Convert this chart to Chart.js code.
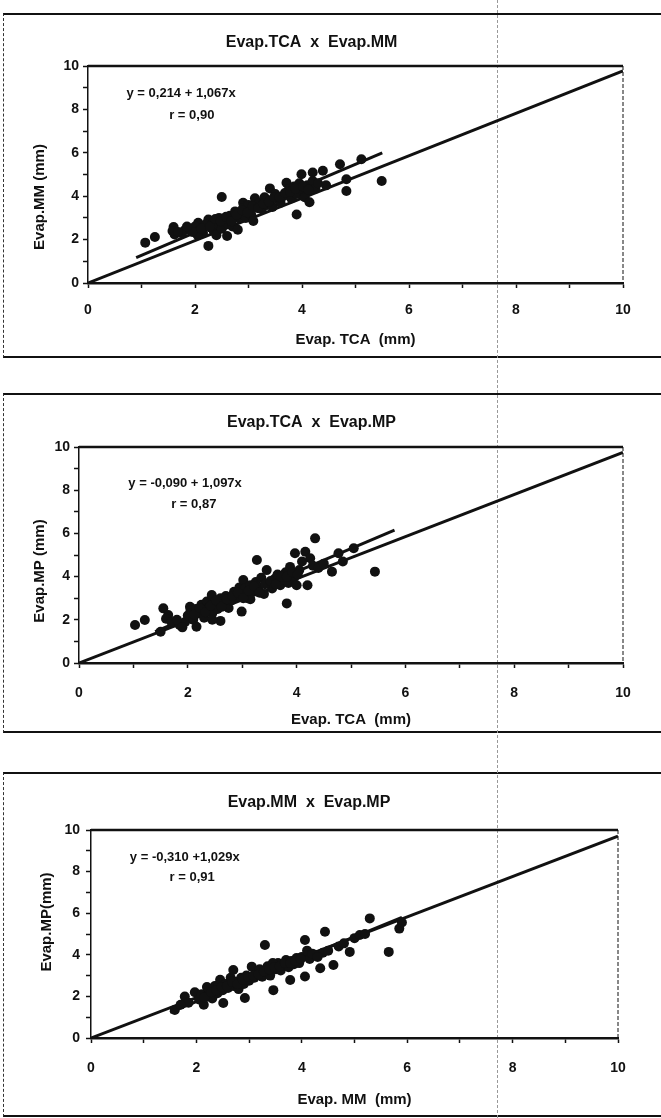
<!DOCTYPE html>
<html><head><meta charset="utf-8">
<script src="https://cdn.jsdelivr.net/npm/chart.js@4.4.1/dist/chart.umd.min.js"></script>
<style>
html,body{margin:0;padding:0;background:#fff;width:661px;height:1118px;overflow:hidden;position:relative}
.frame{position:absolute;left:3px;width:720px;border-top:2px solid #111;border-bottom:2px solid #111;border-left:1px dashed #333;box-sizing:border-box}
.fold{position:absolute;left:497px;top:0;height:1118px;width:0;border-left:1px dashed #999}
canvas{position:absolute;left:0}
</style></head><body>
<div class="frame" style="top:13px;height:345px"></div>
<div class="frame" style="top:393px;height:340px"></div>
<div class="frame" style="top:772px;height:345px"></div>
<div class="fold"></div>
<canvas id="c1" width="661" height="345" style="top:13px"></canvas>
<canvas id="c2" width="661" height="340" style="top:393px"></canvas>
<canvas id="c3" width="661" height="345" style="top:772px"></canvas>
<script>
// ---------- DATA ----------
const tickValues = [0, 2, 4, 6, 8, 10];
const tickLabels = ['0', '2', '4', '6', '8', '10'];

const chartTitles = ['Evap.TCA  x  Evap.MM', 'Evap.TCA  x  Evap.MP', 'Evap.MM  x  Evap.MP'];
const xTitles = ['Evap. TCA  (mm)', 'Evap. TCA  (mm)', 'Evap. MM  (mm)'];
const yTitles = ['Evap.MM (mm)', 'Evap.MP (mm)', 'Evap.MP(mm)'];
const equations = ['y = 0,214 + 1,067x', 'y = -0,090 + 1,097x', 'y = -0,310 +1,029x'];
const correlations = ['r = 0,90', 'r = 0,87', 'r = 0,91'];

// Chart 1: TCA (x) vs MM (y)
const tcaX_1 = [1.07,1.25,1.60,1.62,1.58,1.80,1.75,1.90,2.06,2.00,2.10,2.15,2.25,2.20,2.25,2.30,2.35,2.35,2.40,2.45,2.50,2.50,2.55,2.60,2.60,2.65,2.70,2.70,2.75,2.80,2.80,2.85,2.90,2.90,2.95,3.00,3.00,3.05,3.09,3.12,3.15,3.20,3.25,3.30,3.35,3.40,3.40,3.45,3.50,3.55,3.60,3.65,3.71,3.75,3.80,3.85,3.90,3.90,3.95,3.99,4.00,4.05,4.10,4.14,4.20,4.20,4.25,4.30,4.39,4.45,4.71,4.83,4.83,5.11,5.49,2.05,1.95,2.45,
  2.12,2.28,2.38,2.48,2.58,2.68,2.78,2.88,2.98,3.08,3.18,3.28,3.38,3.48,3.58,3.68,3.78,3.88,4.02,4.12,1.68,1.85];
const mmY_1  = [1.86,2.12,2.58,2.24,2.40,2.42,2.30,2.50,2.78,2.60,2.45,2.30,2.93,2.70,1.71,2.55,2.40,2.80,2.20,2.65,3.96,2.50,2.90,2.17,2.75,3.10,2.60,2.95,3.30,2.45,3.00,3.20,3.70,3.45,3.00,3.35,3.60,3.15,2.86,3.90,3.50,3.70,3.40,3.95,3.60,4.36,3.80,3.50,4.10,3.85,3.70,4.00,4.62,4.30,3.90,4.45,3.16,4.10,4.60,5.01,4.30,3.95,4.50,3.72,5.09,4.70,4.35,4.60,5.17,4.50,5.47,4.78,4.24,5.70,4.70,2.20,2.35,3.00,
  2.50,2.60,2.95,2.85,3.05,2.85,3.15,3.35,3.25,3.55,3.45,3.65,3.75,3.95,3.95,4.15,4.20,4.35,4.45,4.30,2.35,2.60];

// Chart 2: TCA (x) vs MP (y)
const tcaX_2 = [1.03,1.21,1.55,1.64,1.60,1.50,1.70,1.85,1.95,2.04,2.00,2.05,2.10,2.16,2.15,2.20,2.25,2.30,2.30,2.35,2.40,2.44,2.45,2.50,2.55,2.60,2.60,2.65,2.70,2.75,2.80,2.85,2.90,2.95,2.99,3.00,3.02,3.05,3.10,3.15,3.20,3.25,3.27,3.30,3.35,3.40,3.45,3.50,3.55,3.60,3.65,3.70,3.75,3.80,3.82,3.85,3.88,3.95,3.97,4.00,4.05,4.10,4.16,4.20,4.25,4.30,4.34,4.40,4.50,4.65,4.77,4.85,5.05,5.44,2.45,3.15,
  2.12,2.22,2.32,2.42,2.52,2.62,2.72,2.82,2.92,3.02,3.12,3.22,3.32,3.42,3.52,3.62,3.72,3.82,3.92,4.02,1.80,1.90];
const mpY_2  = [1.76,1.99,2.53,2.22,2.05,1.45,1.90,1.76,1.90,2.60,2.20,2.45,2.00,1.68,2.50,2.30,2.70,2.45,2.10,2.85,2.60,3.15,2.30,2.75,2.50,1.95,3.00,2.70,3.10,2.55,2.90,3.30,3.05,3.50,2.38,3.20,3.84,3.45,3.00,3.60,3.35,3.75,4.77,3.50,3.95,3.20,4.30,3.70,3.45,3.90,4.10,3.60,3.85,4.20,2.76,3.70,4.45,3.95,5.08,3.60,4.30,4.70,5.15,3.60,4.85,4.50,5.77,4.40,4.60,4.23,5.08,4.70,5.31,4.23,2.00,2.95,
  2.25,2.55,2.35,2.65,2.90,2.60,2.95,3.10,3.25,3.00,3.35,3.55,3.25,3.65,3.80,3.65,4.00,4.00,4.20,4.10,2.00,1.65];

// Chart 3: MM (x) vs MP (y)
const mmX_3 = [1.59,1.78,1.85,1.97,2.05,2.10,2.14,2.20,2.25,2.30,2.35,2.40,2.42,2.45,2.50,2.51,2.55,2.60,2.65,2.70,2.70,2.75,2.80,2.85,2.90,2.92,2.95,3.00,3.05,3.10,3.15,3.20,3.25,3.30,3.30,3.35,3.40,3.46,3.50,3.55,3.60,3.65,3.70,3.75,3.78,3.80,3.85,3.90,3.95,4.00,4.06,4.06,4.10,4.15,4.25,4.35,4.40,4.44,4.50,4.60,4.70,4.80,4.91,5.00,5.10,5.20,5.29,5.65,5.85,5.90,2.20,3.45,
  2.15,2.28,2.38,2.48,2.58,2.68,2.78,2.88,2.98,3.08,3.18,3.28,3.38,3.48,3.58,3.68,3.78,3.88,3.98,4.20,4.30,1.70];
const mpY_3  = [1.35,1.99,1.70,2.20,1.85,2.10,1.60,2.00,2.30,1.90,2.50,2.15,2.55,2.80,2.30,1.68,2.60,2.40,2.90,3.27,2.50,2.70,2.35,2.90,2.60,1.92,3.00,2.75,3.43,2.90,3.10,3.30,2.95,4.47,3.20,3.45,3.00,2.30,3.30,3.60,3.25,3.50,3.75,3.40,2.79,3.70,3.55,3.85,3.60,3.90,4.71,2.96,4.20,3.80,4.00,3.35,4.10,5.11,4.20,3.51,4.40,4.55,4.14,4.80,4.95,5.00,5.75,4.14,5.26,5.55,2.45,3.60,
  1.95,2.20,2.30,2.45,2.50,2.70,2.60,2.80,2.95,3.00,3.05,3.20,3.30,3.40,3.45,3.60,3.60,3.70,3.80,4.05,3.90,1.60];

// 1:1 lines and fitted regression lines (end points)
const oneX = [0, 10];
const oneY_1 = [0, 9.77], oneY_2 = [0, 9.75], oneY_3 = [0, 9.70];
const regX_1 = [0.9, 5.5], regY_1 = [1.17, 6.0];
const regX_2 = [1.4, 5.8], regY_2 = [1.45, 6.15];
const regX_3 = [1.5, 5.9], regY_3 = [1.23, 5.8];

// ---------- RENDER ----------
const FONT = '"Liberation Sans", Arial, sans-serif';
Chart.defaults.font.family = FONT;
Chart.defaults.color = '#111';

const pts = (xs, ys) => xs.map((x, i) => ({x, y: ys[i]}));

const framePlugin = {
  id: 'plotFrame',
  beforeDatasetsDraw(chart) {
    const {ctx, chartArea: a} = chart;
    ctx.save();
    ctx.strokeStyle = '#111';
    ctx.lineWidth = 2.5;
    ctx.beginPath(); ctx.moveTo(a.left, a.top); ctx.lineTo(a.right, a.top); ctx.stroke();
    ctx.lineWidth = 1; ctx.setLineDash([4, 2]);
    ctx.beginPath(); ctx.moveTo(a.right, a.top); ctx.lineTo(a.right, a.bottom); ctx.stroke();
    ctx.restore();
  }
};
const eqPlugin = {
  id: 'eqText',
  afterDatasetsDraw(chart, args, opts) {
    const {ctx, scales: {x, y}} = chart;
    ctx.save();
    ctx.fillStyle = '#111';
    ctx.font = 'bold 13px ' + FONT;
    ctx.textAlign = 'center';
    ctx.textBaseline = 'middle';
    (opts.lines || []).forEach(l => ctx.fillText(l.text, x.getPixelForValue(l.x), y.getPixelForValue(l.y)));
    if (opts.yTitle) {
      ctx.font = 'bold 15px ' + FONT;
      ctx.translate(opts.yTitle.px, opts.yTitle.py);
      ctx.rotate(-Math.PI / 2);
      ctx.fillText(opts.yTitle.text, 0, 0);
    }
    ctx.restore();
  }
};

function makeChart(id, idx, scatter, oneY, regX, regY, L) {
  const tickCb = v => { const k = tickValues.indexOf(v); return k >= 0 ? tickLabels[k] : ''; };
  new Chart(document.getElementById(id), {
    type: 'scatter',
    data: {
      datasets: [
        {type: 'line', data: pts(oneX, oneY), borderColor: '#111', borderWidth: 3, pointRadius: 0, fill: false, order: 2},
        {type: 'line', data: pts(regX, regY), borderColor: '#111', borderWidth: 3, pointRadius: 0, fill: false, order: 1},
        {data: scatter, backgroundColor: '#111', borderWidth: 0, pointRadius: 5, order: 0}
      ]
    },
    options: {
      responsive: false, animation: false, devicePixelRatio: 1, events: [],
      layout: {padding: {left: 0, right: 661 - L.plotRight, top: 0, bottom: 0}},
      plugins: {
        legend: {display: false}, tooltip: {enabled: false},
        title: {display: true, text: chartTitles[idx], color: '#111',
          font: {size: 16, weight: 'bold', lineHeight: 1.2},
          padding: {top: L.titleY - 9.6, bottom: L.plotTop - (L.titleY - 9.6) - 19.2}},
        eqText: {lines: [
          {text: equations[idx], x: L.eq[0], y: L.eq[1]},
          {text: correlations[idx], x: L.r[0], y: L.r[1]}
        ], yTitle: {text: yTitles[idx], px: L.yTitleX, py: L.yTitleY}}
      },
      scales: {
        x: {type: 'linear', min: 0, max: 10, position: 'bottom',
          afterFit: s => { s.height = L.canvasH - L.plotBottom; },
          ticks: {stepSize: 1, autoSkip: false, maxRotation: 0, padding: L.xTickPad, color: '#111',
            font: {size: 14, weight: 'bold'}, callback: tickCb},
          grid: {drawOnChartArea: false, drawTicks: true, tickLength: 5, color: '#111', tickWidth: 1.5},
          border: {display: true, color: '#111', width: 2.5},
          title: {display: true, text: xTitles[idx], color: '#111', font: {size: 15, weight: 'bold', lineHeight: 1.2},
            padding: {top: 0, bottom: L.xTitlePad}}
        },
        y: {type: 'linear', min: 0, max: 10, position: 'left',
          afterFit: s => { s.width = L.plotLeft; },
          ticks: {stepSize: 1, autoSkip: false, padding: L.yTickPad, color: '#111',
            font: {size: 14, weight: 'bold'}, callback: tickCb},
          grid: {drawOnChartArea: false, drawTicks: true, tickLength: 5, color: '#111', tickWidth: 1.5},
          border: {display: true, color: '#111', width: 1.5},
          title: {display: false}
        }
      }
    },
    plugins: [framePlugin, eqPlugin]
  });
}

makeChart('c1', 0, pts(tcaX_1, mmY_1), oneY_1, regX_1, regY_1,
  {canvasH: 345, plotLeft: 88, plotRight: 623, plotTop: 53, plotBottom: 270, titleY: 30,
   xTickPad: 14, xTitlePad: 9, yTickPad: 4, yTitleX: 40, yTitleY: 184, eq: [1.74, 8.75], r: [1.94, 7.74]});
makeChart('c2', 1, pts(tcaX_2, mpY_2), oneY_2, regX_2, regY_2,
  {canvasH: 340, plotLeft: 79, plotRight: 623, plotTop: 54, plotBottom: 270, titleY: 30,
   xTickPad: 17, xTitlePad: 4, yTickPad: 4, yTitleX: 40, yTitleY: 178, eq: [1.95, 8.33], r: [2.11, 7.36]});
makeChart('c3', 2, pts(mmX_3, mpY_3), oneY_3, regX_3, regY_3,
  {canvasH: 345, plotLeft: 91, plotRight: 618, plotTop: 58, plotBottom: 266, titleY: 31,
   xTickPad: 17, xTitlePad: 8, yTickPad: 6, yTitleX: 47, yTitleY: 150, eq: [1.78, 8.7], r: [1.92, 7.74]});
</script>
</body></html>
